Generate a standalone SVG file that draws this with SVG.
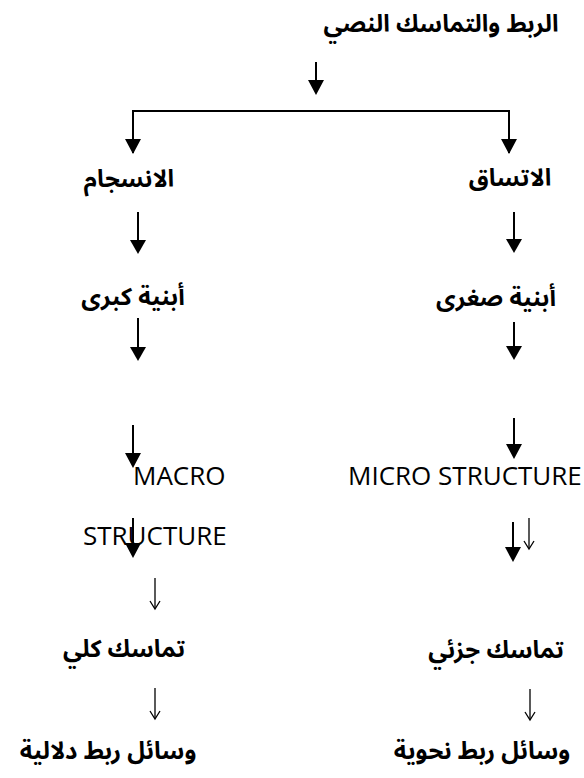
<svg xmlns="http://www.w3.org/2000/svg" width="584" height="778" viewBox="0 0 584 778">
<defs>
<style>
.ar{font-family:"Noto Sans Arabic","DejaVu Sans",sans-serif;font-weight:bold;font-size:24px;fill:#000;text-anchor:middle}
.en{font-family:"Open Sans","Noto Sans",sans-serif;font-size:26px;fill:#000}
.thick{stroke:#000;stroke-width:2;fill:none}
.thin{stroke:#000;stroke-width:1.3;fill:none}
.head{fill:#000}
</style>
</defs>
<rect width="584" height="778" fill="#fff"/>
<g id="connectors">
<line class="thick" x1="316" y1="62" x2="316" y2="82"/><polygon class="head" points="308,80 324,80 316,95"/>
<polyline class="thick" points="133,153 133,111 509,111 509,153"/>
<polygon class="head" points="125,139 141,139 133,154"/>
<polygon class="head" points="501,139 517,139 509,154"/>
<line class="thick" x1="138" y1="212" x2="138" y2="242"/><polygon class="head" points="130,240 146,240 138,254"/>
<line class="thick" x1="138" y1="318" x2="138" y2="349"/><polygon class="head" points="130,347 146,347 138,361"/>
<line class="thick" x1="133" y1="425" x2="133" y2="456"/><polygon class="head" points="125,453 141,453 133,468"/>
<line class="thick" x1="133" y1="518" x2="133" y2="546"/><polygon class="head" points="125,543 141,543 133,558"/>
<line class="thin" x1="155" y1="578" x2="155" y2="608"/><polyline class="thin" points="150,601 155,609 160,601"/>
<line class="thin" x1="155" y1="688" x2="155" y2="718"/><polyline class="thin" points="150,711 155,719 160,711"/>
<line class="thick" x1="514" y1="212" x2="514" y2="241"/><polygon class="head" points="506,239 522,239 514,253"/>
<line class="thick" x1="514" y1="322" x2="514" y2="348"/><polygon class="head" points="506,346 522,346 514,360"/>
<line class="thick" x1="514" y1="418" x2="514" y2="447"/><polygon class="head" points="506,444 522,444 514,459"/>
<line class="thick" x1="513" y1="522" x2="513" y2="550"/><polygon class="head" points="505,547 521,547 513,562"/>
<line class="thin" x1="529" y1="518" x2="529" y2="548"/><polyline class="thin" points="524,541 529,549 534,541"/>
<line class="thin" x1="530" y1="689" x2="530" y2="719"/><polyline class="thin" points="525,712 530,720 535,712"/>
</g>
<g id="n-title"><text class="ar" x="441" y="32">الربط والتماسك النصي</text></g>
<g id="n-insijam"><text class="ar" x="129" y="187">الانسجام</text></g>
<g id="n-ittisaq"><text class="ar" x="510" y="186">الاتساق</text></g>
<g id="n-kubra"><text class="ar" x="133" y="305">أبنية كبرى</text></g>
<g id="n-sughra"><text class="ar" x="496" y="306">أبنية صغرى</text></g>
<g id="n-macro"><text class="en" x="133" y="485">MACRO</text><text class="en" x="83" y="545">STRUCTURE</text></g>
<g id="n-micro"><text class="en" x="348" y="485">MICRO STRUCTURE</text></g>
<g id="n-kulli"><text class="ar" x="124" y="657">تماسك كلي</text></g>
<g id="n-juzi"><text class="ar" x="496" y="658">تماسك جزئي</text></g>
<g id="n-dalaliya"><text class="ar" x="108" y="759">وسائل ربط دلالية</text></g>
<g id="n-nahwiya"><text class="ar" x="482" y="759">وسائل ربط نحوية</text></g>
</svg>
